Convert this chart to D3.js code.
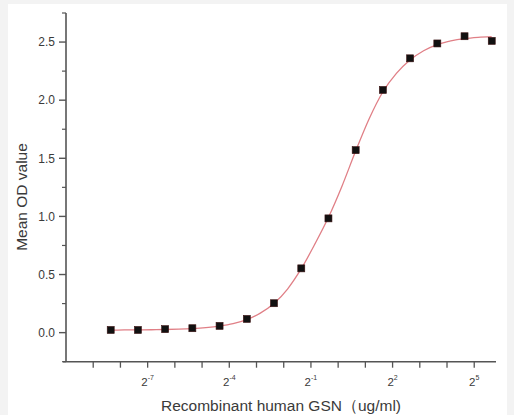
<!DOCTYPE html>
<html>
<head>
<meta charset="utf-8">
<script src="https://cdn.jsdelivr.net/npm/d3@7"></script>
<style>
  body { margin: 0; background: #f3f3f3; }
  svg { display: block; font-family: "Liberation Sans", Arial, sans-serif; }
</style>
</head>
<body>
<div class="container"></div>
<script>
const width = 514;
const height = 415;

// concentrations (ug/ml), 2-fold dilutions from 50
const conc = [0.00305, 0.0061, 0.0122, 0.0244, 0.0488, 0.0977, 0.195, 0.391, 0.781, 1.5625, 3.125, 6.25, 12.5, 25, 50];
const meanOD = [0.023, 0.023, 0.030, 0.038, 0.058, 0.118, 0.253, 0.553, 0.983, 1.570, 2.088, 2.360, 2.488, 2.550, 2.510];

// fitted curve (x as log2 of concentration)
const fitLog2 = [-8.36, -7.86, -7.36, -6.86, -6.36, -5.86, -5.36, -4.86, -4.36, -3.86, -3.36, -2.86, -2.36, -1.86, -1.36,
  -0.86, -0.36, 0.14, 0.64, 1.14, 1.64, 2.14, 2.64, 3.14, 3.64, 4.14, 4.64, 5.14, 5.64];
const fitOD = [0.022, 0.023, 0.024, 0.025, 0.027, 0.030, 0.035, 0.043, 0.056, 0.077, 0.112, 0.168, 0.250, 0.375, 0.548,
  0.760, 0.990, 1.260, 1.560, 1.840, 2.070, 2.230, 2.345, 2.425, 2.478, 2.510, 2.530, 2.541, 2.547];

const xTickExp = [-9, -8, -7, -6, -5, -4, -3, -2, -1, 0, 1, 2, 3, 4, 5];
const xLabelExp = [-7, -4, -1, 2, 5];
const yMajor = [0, 0.5, 1.0, 1.5, 2.0, 2.5];
const yMinor = [-0.25, 0.25, 0.75, 1.25, 1.75, 2.25, 2.75];

const svg = d3.select(".container")
    .append("svg")
    .attr("width", width)
    .attr("height", height);

svg.append("rect")
    .attr("x", 8)
    .attr("y", 4)
    .attr("width", 499)
    .attr("height", 411)
    .attr("fill", "#fff");

const x = d3.scaleLog().base(2)
    .domain([Math.pow(2, -10), Math.pow(2, 5.8)])
    .range([66, 496]);

const y = d3.scaleLinear()
    .domain([-0.25, 2.75])
    .range([361.7, 13]);

const axisColor = "#555";
const textColor = "#3a3a3a";

// y axis
const yAxis = svg.append("g").attr("transform", "translate(66,0)");
yAxis.append("line")
    .attr("y1", y(2.75)).attr("y2", y(-0.25))
    .attr("stroke", axisColor).attr("stroke-width", 1.6);
yAxis.selectAll(".major").data(yMajor).join("line")
    .attr("x1", -7).attr("x2", 0)
    .attr("y1", d => y(d)).attr("y2", d => y(d))
    .attr("stroke", axisColor).attr("stroke-width", 1.4);
yAxis.selectAll(".minor").data(yMinor).join("line")
    .attr("x1", -4).attr("x2", 0)
    .attr("y1", d => y(d)).attr("y2", d => y(d))
    .attr("stroke", axisColor).attr("stroke-width", 1.2);
yAxis.selectAll(".lab").data(yMajor).join("text")
    .attr("x", -11)
    .attr("y", d => y(d))
    .attr("dy", "0.36em")
    .attr("text-anchor", "end")
    .attr("font-size", 12)
    .attr("fill", textColor)
    .text(d => d.toFixed(1));

// x axis
const xAxis = svg.append("g").attr("transform", "translate(0," + y(-0.25) + ")");
xAxis.append("line")
    .attr("x1", 63).attr("x2", 496)
    .attr("stroke", axisColor).attr("stroke-width", 1.6);
xAxis.selectAll(".tick").data(xTickExp).join("line")
    .attr("x1", d => x(Math.pow(2, d))).attr("x2", d => x(Math.pow(2, d)))
    .attr("y1", 0).attr("y2", 6)
    .attr("stroke", axisColor).attr("stroke-width", 1.3);
const xl = xAxis.selectAll(".lab").data(xLabelExp).join("text")
    .attr("x", d => x(Math.pow(2, d)))
    .attr("y", 24)
    .attr("text-anchor", "middle")
    .attr("font-size", 11.5)
    .attr("fill", textColor);
xl.append("tspan").text("2");
xl.append("tspan")
    .attr("dy", -6)
    .attr("font-size", 7)
    .text(d => d < 0 ? "-" + (-d) : d);

// titles
svg.append("text")
    .attr("x", 281)
    .attr("y", 411)
    .attr("text-anchor", "middle")
    .attr("font-size", 15.5)
    .attr("fill", textColor)
    .text("Recombinant human  GSN\uFF08ug/ml)");

svg.append("text")
    .attr("transform", "translate(27,197) rotate(-90)")
    .attr("text-anchor", "middle")
    .attr("font-size", 15.5)
    .attr("fill", textColor)
    .text("Mean OD value");

// fitted curve
const line = d3.line()
    .x(d => x(Math.pow(2, d[0])))
    .y(d => y(d[1]))
    .curve(d3.curveMonotoneX);

svg.append("path")
    .datum(fitLog2.map((u, i) => [u, fitOD[i]]))
    .attr("d", line)
    .attr("fill", "none")
    .attr("stroke", "#e07f86")
    .attr("stroke-width", 1.3);

// points
const s = 7;
svg.selectAll(".pt").data(conc).join("rect")
    .attr("x", d => x(d) - s / 2)
    .attr("y", (d, i) => y(meanOD[i]) - s / 2)
    .attr("width", s)
    .attr("height", s)
    .attr("fill", "#111")
    .attr("stroke", "#3a1010")
    .attr("stroke-width", 0.6);
</script>
</body>
</html>
